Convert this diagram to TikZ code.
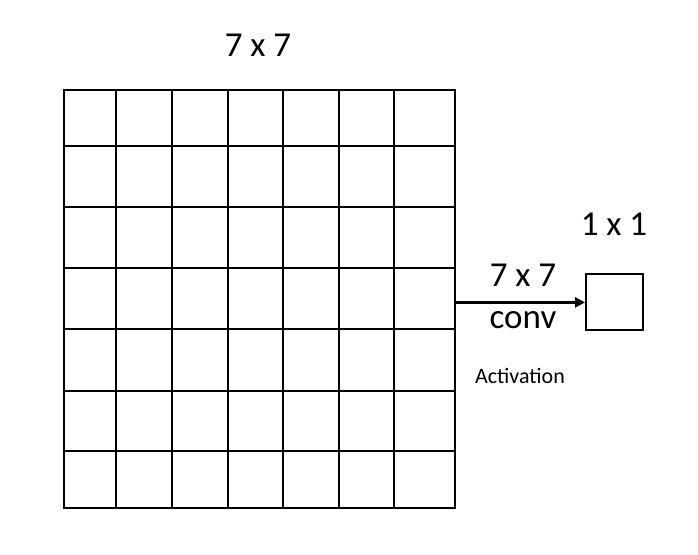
\documentclass[tikz,border=0pt]{standalone}
\usepackage{fontspec}
\setmainfont{Carlito}
\usetikzlibrary{arrows.meta}
\begin{document}
\begin{tikzpicture}[x=1pt,y=-1pt,
  gridline/.style={line width=2pt},
  bigtext/.style={font=\fontsize{35}{40}\selectfont, anchor=base, inner sep=0pt},
  smalltext/.style={font=\fontsize{22}{24}\selectfont, anchor=base, inner sep=0pt},
  outbox/.style={draw, line width=2pt, minimum width=57pt, minimum height=56pt, inner sep=0pt}]
\useasboundingbox (0,0) rectangle (698,554);
% grid frame
\node[draw, line width=2pt, minimum width=391pt, minimum height=418pt, inner sep=0pt, anchor=north west] (grid) at (63,89) {};
\foreach \x in {116,172,228,283,339,394} {
  \draw[gridline] (\x,89) -- (\x,507);
}
\foreach \y in {146,207,268,329,391,451} {
  \draw[gridline] (63,\y) -- (454,\y);
}
\node[outbox] (box) at (614.5,302.4) {};
\draw[line width=2.4pt, -{Triangle[length=10pt,width=10pt]}] (grid.east |- box.west) -- (box.west);
\node[bigtext] (t1) at (258,56) {7 x 7};
\node[bigtext] (t2) at (523,286) {7 x 7};
\node[bigtext] (t3) at (523,328) {conv};
\node[bigtext] (t4) at (614,235) {1 x 1};
\node[smalltext] (t5) at (520,383) {Activation};
\end{tikzpicture}
\end{document}
